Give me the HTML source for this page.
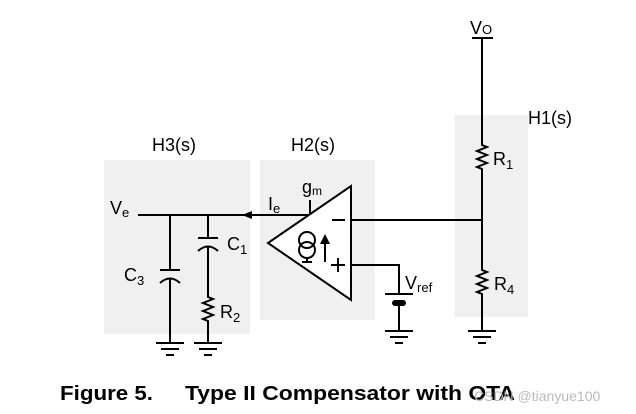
<!DOCTYPE html>
<html><head><style>
body{margin:0;background:#fff;}
svg{display:block;font-family:"Liberation Sans",Arial,sans-serif;}
</style></head><body>
<svg width="636" height="414" viewBox="0 0 636 414">
<rect x="104" y="160" width="146" height="174" fill="#f0f0f0"/>
<rect x="260" y="160" width="115" height="160" fill="#f0f0f0"/>
<rect x="455" y="115" width="73" height="202" fill="#f0f0f0"/>
<g font-size="18" fill="#000">
<text x="152" y="151">H3(s)</text>
<text x="291" y="151">H2(s)</text>
<text x="528" y="124">H1(s)</text>
<text x="110" y="214">V<tspan font-size="13" dy="3">e</tspan></text>
<text x="268" y="210">I<tspan font-size="13" dy="3">e</tspan></text>
<text x="302" y="193">g<tspan font-size="12" dy="2">m</tspan></text>
<text x="124" y="281">C<tspan font-size="13" dy="4">3</tspan></text>
<text x="227" y="250">C<tspan font-size="13" dy="4">1</tspan></text>
<text x="220" y="318">R<tspan font-size="13" dy="4">2</tspan></text>
<text x="470" y="34">V<tspan font-size="13" dy="0">O</tspan></text>
<text x="493" y="165">R<tspan font-size="13" dy="4">1</tspan></text>
<text x="494" y="290">R<tspan font-size="13" dy="4">4</tspan></text>
<text x="405" y="289">V<tspan font-size="13" dy="3">ref</tspan></text>
</g>
<g stroke="#000" stroke-width="2" fill="none">
<path d="M138 215H310"/>
<path d="M170 215V270M160 270H180M160 283Q170 274 180 283M170 279V343"/>
<path d="M208 215V238M198 238H218M198 251Q208 242 218 251M208 247V297l5 2-10 4 10 4-10 4 10 4-10 4 5 2V343"/>
<path d="M268 243L351 186V300Z" fill="#fff"/>
<path d="M310 215V200"/>
<path d="M332 220H345M338 258V272M331 265H345"/>
<circle cx="307" cy="240" r="8"/><circle cx="307" cy="250" r="8"/>
<path d="M307 258V262M302 262H312"/>
<path d="M325 262V238"/>
<path d="M351 220H482M351 265H399V294M385 294H413M399 306V331"/>
<path d="M472 38H493M482 38V145l5 2-10 4 10 4-10 4 10 4-10 4 5 2V270l5 2-10 4 10 4-10 4 10 4-10 4 5 2V331"/>
</g>
<path d="M320 244L325 234L330 244Z" fill="#000"/>
<path d="M242 215L252 211V219Z" fill="#000"/>
<rect x="392" y="300" width="14" height="6" rx="3" fill="#000"/>
<g stroke="#000" stroke-width="2">
<path d="M156 343H184M161 349H179M166 355H174"/>
<path d="M194 343H222M199 349H217M204 355H212"/>
<path d="M385 331H413M390 337H408M395 343H403"/>
<path d="M468 331H496M473 337H491M478 343H486"/>
</g>
<text x="60" y="400" font-size="20" font-weight="bold" textLength="93" lengthAdjust="spacingAndGlyphs">Figure 5.</text>
<text x="185" y="400" font-size="20" font-weight="bold" textLength="330" lengthAdjust="spacingAndGlyphs">Type II Compensator with OTA</text>
<text x="474" y="401" font-size="14" fill="#bbb">CSDN @tianyue100</text>
</svg>
</body></html>
